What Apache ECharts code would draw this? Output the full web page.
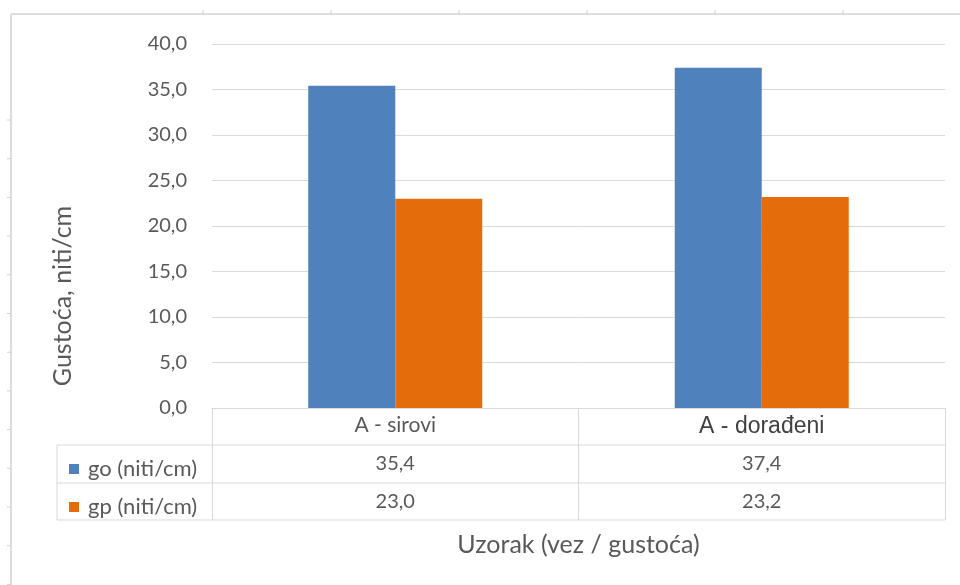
<!DOCTYPE html>
<html>
<head>
<meta charset="utf-8">
<script src="https://cdn.jsdelivr.net/npm/echarts@6/dist/echarts.min.js"></script>
<style>
  html, body { margin: 0; padding: 0; background: #fff; }
  #chart { width: 960px; height: 585px; }
</style>
</head>
<body>
<div id="chart"></div>
<script>
// podaci
const categories = ['A - sirovi', 'A - dorađeni']
const goValues = [35.4, 37.4]
const gpValues = [23.0, 23.2]
const seriesNames = ['go (niti/cm)', 'gp (niti/cm)']

const fmt = v => v.toFixed(1).replace('.', ',')
const grey = '#595959'
const lineCol = '#d9d9d9'
const font = 'Lato, "Open Sans", sans-serif'

const chart = echarts.init(document.getElementById('chart'))

// okvir i "ravnalo" oko slike
const deco = [
  { type: 'line', shape: { x1: 11, y1: 14, x2: 960, y2: 14 }, style: { stroke: '#dcdcdc', lineWidth: 2 } },
  { type: 'line', shape: { x1: 11, y1: 14, x2: 11, y2: 585 }, style: { stroke: '#dcdcdc', lineWidth: 2 } }
]
for (let x = 203; x < 960; x += 128) {
  deco.push({ type: 'line', shape: { x1: x, y1: 10, x2: x, y2: 14 }, style: { stroke: '#d0d0d0', lineWidth: 1 } })
}
for (let y = 120; y < 585; y += 38.7) {
  deco.push({ type: 'line', shape: { x1: 7, y1: y, x2: 11, y2: y }, style: { stroke: '#d0d0d0', lineWidth: 1 } })
}
// tablica podataka
;[445, 483, 520].forEach(y => {
  deco.push({ type: 'line', shape: { x1: 57, y1: y, x2: 945, y2: y }, style: { stroke: lineCol, lineWidth: 1 } })
})
deco.push({ type: 'line', shape: { x1: 57, y1: 445, x2: 57, y2: 520 }, style: { stroke: lineCol, lineWidth: 1 } })

const option = {
  animation: false,
  backgroundColor: '#fff',
  color: ['#4F81BD', '#E46C0A'],
  grid: { left: 212, right: 15, top: 44, bottom: 177 },
  legend: {
    orient: 'vertical',
    left: 64,
    top: 452,
    icon: 'rect',
    itemWidth: 10,
    itemHeight: 10,
    itemGap: 14,
    selectedMode: false,
    textStyle: { color: grey, fontSize: 22, fontFamily: font, lineHeight: 24, padding: [0, 0, 0, 4] },
    data: seriesNames
  },
  xAxis: [
    {
      type: 'category',
      data: categories,
      axisLine: { lineStyle: { color: lineCol } },
      axisTick: { show: true, length: 112, lineStyle: { color: lineCol } },
      axisLabel: {
        margin: 7,
        color: grey,
        fontSize: 21,
        fontFamily: font,
        formatter: (v, i) => i === 1 ? '{b|' + v + '}' : v,
        rich: { b: { fontSize: 23, fontFamily: '"Liberation Sans", Arial', color: '#404040' } }
      },
      name: 'Uzorak (vez / gustoća)',
      nameLocation: 'middle',
      nameGap: 124,
      nameTextStyle: { color: grey, fontSize: 25, fontFamily: font }
    },
    {
      type: 'category',
      data: goValues.map(fmt),
      position: 'bottom',
      offset: 37,
      axisLine: { show: false },
      axisTick: { show: false },
      axisLabel: { margin: 9, color: grey, fontSize: 20, fontFamily: font }
    },
    {
      type: 'category',
      data: gpValues.map(fmt),
      position: 'bottom',
      offset: 75,
      axisLine: { show: false },
      axisTick: { show: false },
      axisLabel: { margin: 9, color: grey, fontSize: 20, fontFamily: font }
    }
  ],
  yAxis: {
    type: 'value',
    min: 0,
    max: 40,
    interval: 5,
    axisLine: { show: false },
    axisTick: { show: false },
    splitLine: { lineStyle: { color: lineCol } },
    axisLabel: { margin: 25, color: grey, fontSize: 20, fontFamily: font, formatter: fmt },
    name: 'Gustoća, niti/cm',
    nameLocation: 'middle',
    nameGap: 137,
    nameTextStyle: { color: grey, fontSize: 25, fontFamily: font, padding: [0, 140, 0, 0] }
  },
  series: [
    { name: seriesNames[0], type: 'bar', data: goValues, barWidth: 87, barGap: '0%' },
    { name: seriesNames[1], type: 'bar', data: gpValues, barWidth: 87, barGap: '0%' }
  ],
  graphic: deco
}
chart.setOption(option)
</script>
</body>
</html>
